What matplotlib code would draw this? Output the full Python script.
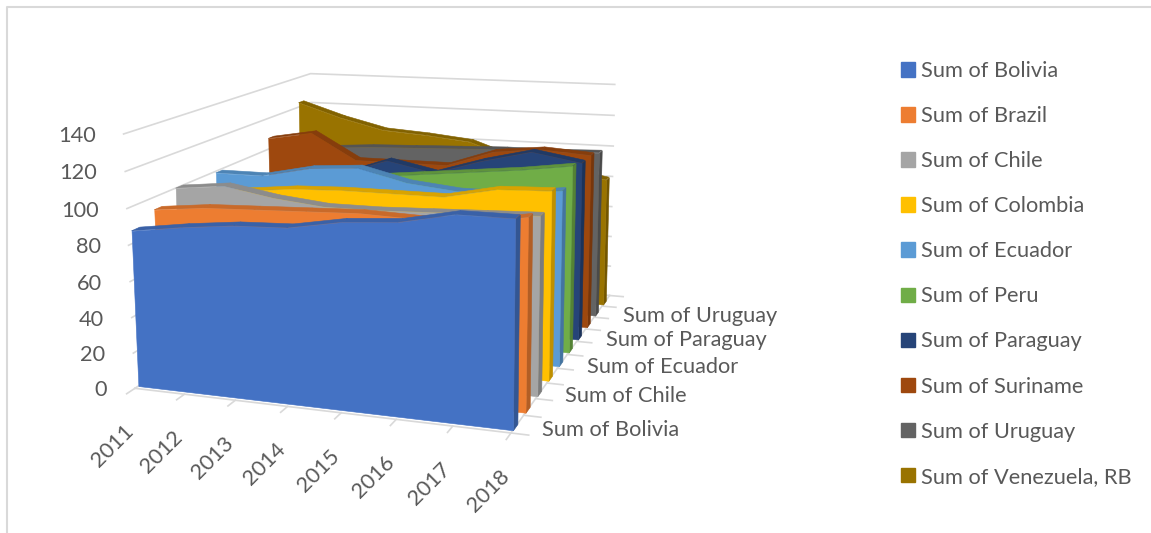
#!/usr/bin/env python
# coding: utf-8
# 3D area chart, excel style, camera fitted on a few corners of the plot box
import numpy as np
import matplotlib
matplotlib.use('Agg')
import matplotlib.pyplot as plt
from matplotlib.lines import Line2D
from matplotlib.patches import Patch
from mpl_toolkits.mplot3d.art3d import Poly3DCollection

years = ['2011', '2012', '2013', '2014', '2015', '2016', '2017', '2018']
series_names = ['Sum of Bolivia', 'Sum of Brazil', 'Sum of Chile', 'Sum of Colombia', 'Sum of Ecuador',
                'Sum of Peru', 'Sum of Paraguay', 'Sum of Suriname', 'Sum of Uruguay', 'Sum of Venezuela, RB']
bolivia = [87, 91, 94, 95, 100, 102, 108, 108]
brazil = [93, 96, 97, 98, 99, 98, 98, 103]
chile = [100, 103, 98, 95, 95, 96, 97, 98]
colombia = [90, 95, 98, 99, 99, 99, 105, 106]
ecuador = [99, 99, 105, 107, 100, 97, 97, 101]
peru = [88, 90, 94, 97, 100, 103, 106, 110]
paraguay = [85, 88, 92, 102, 96, 105, 112, 107]
suriname = [107, 112, 96, 96, 96, 106, 109, 107]
uruguay = [95, 98, 100, 101, 102, 103, 103, 104]
venezuela = [123, 114, 107, 105, 102, 92, 87, 82]
all_values = [bolivia, brazil, chile, colombia, ecuador, peru, paraguay, suriname, uruguay, venezuela]
colors = ['#4472C4', '#ED7D31', '#A5A5A5', '#FFC000', '#5B9BD5',
          '#70AD47', '#264478', '#9E480E', '#636363', '#997300']
value_ticks = [0, 20, 40, 60, 80, 100, 120, 140]
depth_labels = ['Sum of Bolivia', 'Sum of Chile', 'Sum of Ecuador', 'Sum of Paraguay', 'Sum of Uruguay']

W, H = 1151, 533
RIBBON_START = 0.15
RIBBON_DEPTH = 0.35
TEXT = '#595959'
GRID = '#D9D9D9'
FONT = 'Lato'
FS = 15.7

# corners of the box (year, depth, value) and where they sit in the picture
box_world = [(0, 0, 0), (0, 0, 140), (7, 0, 0), (0, 10, 0), (0, 10, 140), (7, 10, 0), (7, 10, 140)]
box_pixel = [(135, 386), (124, 133), (510, 437), (314, 275), (310, 72), (610, 290), (615, 87)]


def fit_camera(world, pixel):
    """DLT fit, returns 3x4 matrix going to display coords"""
    rows = []
    for (x, y, z), (u, v) in zip(world, pixel):
        v = H - v
        rows.append([x, y, z, 1, 0, 0, 0, 0, -u * x, -u * y, -u * z, -u])
        rows.append([0, 0, 0, 0, x, y, z, 1, -v * x, -v * y, -v * z, -v])
    P = np.linalg.svd(np.array(rows, dtype=float))[2][-1].reshape(3, 4)
    if P[2, 3] < 0:
        P = -P
    return P / P[2, 3]


def shade(color, f):
    return tuple(c * f for c in matplotlib.colors.to_rgb(color))


def project(x, y, z):
    q = P @ np.array([x, y, z, 1.0])
    return q[0] / q[2], q[1] / q[2]


P = fit_camera(box_world, box_pixel)

fig = plt.figure(figsize=(W / 100, H / 100), dpi=100)
ax = fig.add_axes([0, 0, 1, 1], projection='3d')
ax.set_axis_off()
ax.patch.set_alpha(0)
ax.computed_zorder = False


def get_proj():
    A = np.linalg.inv(ax.transData.get_affine().get_matrix())
    q = A @ P
    # third row only for the depth, has to stay negative or lines get masked
    return np.array([q[0], q[1], [0, 1, 0, -100], q[2]])


# keep the full figure, the camera is fitted in pixels
ax.apply_aspect = lambda position=None: None
ax.get_proj = get_proj

z = 1
# walls
for v in value_ticks:
    ax.plot([0, 0, 7], [0, 10, 10], [v, v, v], color=GRID, lw=1.2, zorder=z, clip_on=False)
ax.plot([0, 7, 7], [0, 0, 10], [0, 0, 0], color=GRID, lw=1.2, zorder=z, clip_on=False)
for i in range(8):
    ax.plot([i, i], [0, -0.35], [0, 0], color=GRID, lw=1.2, zorder=z, clip_on=False)
for i in range(11):
    ax.plot([7, 7.3], [i, i], [0, 0], color=GRID, lw=1.2, zorder=z, clip_on=False)

xs = np.arange(len(years))
# back to front
for i in range(len(all_values) - 1, -1, -1):
    vals = all_values[i]
    c = colors[i]
    y0, y1 = i + RIBBON_START, i + RIBBON_START + RIBBON_DEPTH
    top = [[(xs[k], y0, vals[k]), (xs[k + 1], y0, vals[k + 1]),
            (xs[k + 1], y1, vals[k + 1]), (xs[k], y1, vals[k])] for k in range(7)]
    side = [[(7, y0, 0), (7, y1, 0), (7, y1, vals[-1]), (7, y0, vals[-1])]]
    front = [[(0, y0, 0)] + [(xs[k], y0, vals[k]) for k in range(8)] + [(7, y0, 0)]]
    for faces, f in ((top, 0.85), (side, 0.75), (front, 1.0)):
        z += 1
        col = Poly3DCollection(faces, facecolors=[shade(c, f)], edgecolors=[shade(c, f)],
                               linewidths=0.4, zorder=z, clip_on=False)
        ax.add_collection3d(col, autolim=False)

# tick labels on a flat layer in pixels, Text3D ignores rotation
ax2 = fig.add_axes([0, 0, 1, 1])
ax2.set_xlim(0, W)
ax2.set_ylim(0, H)
ax2.axis('off')
ax2.patch.set_alpha(0)
label_kw = dict(color=TEXT, fontsize=FS, family=FONT, textcoords='offset pixels')

for v in value_ticks:
    ax2.annotate(str(v), project(0, 0, v), xytext=(-28, -2), ha='right', va='center', **label_kw)
for k, yr in enumerate(years):
    ax2.annotate(yr, project(k, 0, 0), xytext=(-5, -40), rotation=45, rotation_mode='anchor',
                 ha='right', va='center', **label_kw)
for k, name in enumerate(depth_labels):
    ax2.annotate(name, project(7.45, 2 * k + 0.5, 0), xytext=(-2 + 1.4 * k, -3), ha='left', va='center', **label_kw)

# chart frame
fig.add_artist(Line2D([7 / W, 7 / W, 1], [0, 1 - 7 / H, 1 - 7 / H], color=GRID, lw=1.5))

handles = [Patch(color=c, label=n) for c, n in zip(colors, series_names)]
fig.legend(handles=handles, loc='upper left', bbox_to_anchor=(901 / W, 1 - 61 / H), frameon=False,
           prop={'family': FONT, 'size': FS}, labelcolor=TEXT, borderpad=0, borderaxespad=0,
           labelspacing=1.15, handlelength=0.64, handleheight=0.64, handletextpad=0.275)

fig.savefig('out.png', dpi=100)
